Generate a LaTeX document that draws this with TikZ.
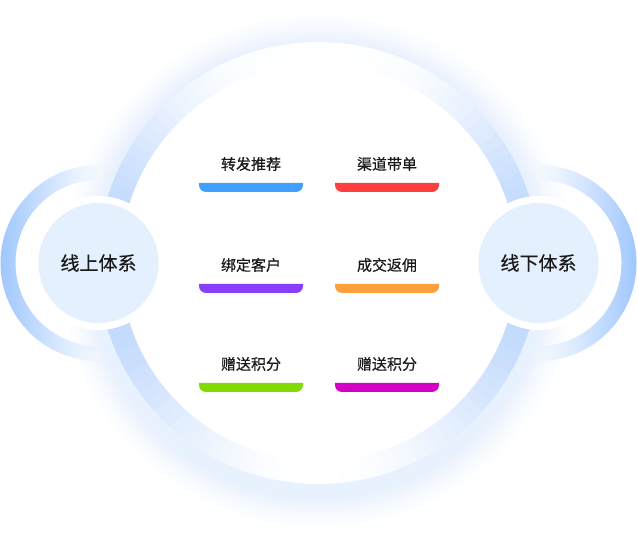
\documentclass[tikz,border=0pt]{standalone}
\usepackage{fontspec}
\usetikzlibrary{fadings}
\newfontfamily\cjk{Noto Sans CJK SC}[FakeBold=0.45]
\definecolor{glowc}{RGB}{232,241,254}
\definecolor{ringc}{RGB}{188,214,253}
\definecolor{arcc}{RGB}{160,199,253}
\definecolor{circc}{RGB}{229,240,254}
\definecolor{txt}{RGB}{26,26,26}
\definecolor{barblue}{RGB}{64,160,255}
\definecolor{barred}{RGB}{255,62,62}
\definecolor{barpurple}{RGB}{136,62,255}
\definecolor{barorange}{RGB}{255,160,62}
\definecolor{bargreen}{RGB}{128,220,0}
\definecolor{barmagenta}{RGB}{214,0,196}
\tikzfading[name=fadetoeast, left color=transparent!0, middle color=transparent!45, right color=transparent!100]
\tikzfading[name=fadetowest, left color=transparent!100, middle color=transparent!45, right color=transparent!0]
\tikzset{
  itemlabel/.style={text=txt, font=\cjk\fontsize{15}{15}\selectfont, inner sep=0pt},
  sidelabel/.style={text=txt, font=\cjk\fontsize{19}{19}\selectfont, inner sep=0pt},
  sidecircle/.style={circle, fill=circc, minimum size=120pt, inner sep=0pt},
}
% bar below a label: #1 = label node, #2 = colour
\newcommand{\itembar}[2]{%
  \fill[#2] ([shift={(-52pt,-19pt)}]#1.center) -- ([shift={(52pt,-19pt)}]#1.center)
    -- ([shift={(52pt,-21pt)}]#1.center) arc[start angle=0,end angle=-90,radius=7pt]
    -- ([shift={(-45pt,-28pt)}]#1.center) arc[start angle=270,end angle=180,radius=7pt]
    -- cycle;}
\begin{document}
\begin{tikzpicture}[x=1pt,y=1pt]
\useasboundingbox (0,0) rectangle (638,536);
\coordinate (M) at (318.5,273);
\coordinate (G) at (318.5,265);
\coordinate (L) at (98.5,273);
\coordinate (R) at (538.5,273);
% outer glow
\foreach \r in {262,260,...,222}{
  \pgfmathsetmacro\t{min(100,100*((262-\r)/34)^1.4)}
  \fill[glowc!\t!white] (G) circle[radius=\r pt];
}
% big ring, bluer at the sides (a little stronger in the lower half)
\foreach \a in {0,3,...,357}{
  \pgfmathsetmacro\p{ifthenelse(sin(\a+1.5)<0,2,3)}
  \pgfmathsetmacro\t{100*abs(cos(\a+1.5))^\p}
  \pgfmathsetmacro\e{\a+3.4}
  \fill[ringc!\t!white] (M) -- ([shift={(\a:221pt)}]M) arc[start angle=\a,end angle=\e,radius=221pt] -- cycle;
}
\fill[white] (M) circle[radius=198pt];
% side arcs, fading towards the centre
\fill[arcc, path fading=fadetoeast] ([shift={(90:98pt)}]L) arc[start angle=90,end angle=270,radius=98pt]
  -- ([shift={(270:83pt)}]L) arc[start angle=270,end angle=90,radius=83pt] -- cycle;
\fill[arcc, path fading=fadetowest] ([shift={(-90:98pt)}]R) arc[start angle=-90,end angle=90,radius=98pt]
  -- ([shift={(90:83pt)}]R) arc[start angle=90,end angle=-90,radius=83pt] -- cycle;
% side circles
\fill[white] (L) circle[radius=67pt];
\fill[white] (R) circle[radius=67pt];
\node[sidecircle] (online) at (L) {};
\node[sidecircle] (offline) at (R) {};
\node[sidelabel] (onlinetext) at (L) {线上体系};
\node[sidelabel] (offlinetext) at (R) {线下体系};
% items
\node[itemlabel] (a1) at (251,372) {转发推荐};
\node[itemlabel] (b1) at (387,372) {渠道带单};
\node[itemlabel] (a2) at (251,271) {绑定客户};
\node[itemlabel] (b2) at (387,271) {成交返佣};
\node[itemlabel] (a3) at (251,172) {赠送积分};
\node[itemlabel] (b3) at (387,172) {赠送积分};
\itembar{a1}{barblue}
\itembar{b1}{barred}
\itembar{a2}{barpurple}
\itembar{b2}{barorange}
\itembar{a3}{bargreen}
\itembar{b3}{barmagenta}
\end{tikzpicture}
\end{document}
